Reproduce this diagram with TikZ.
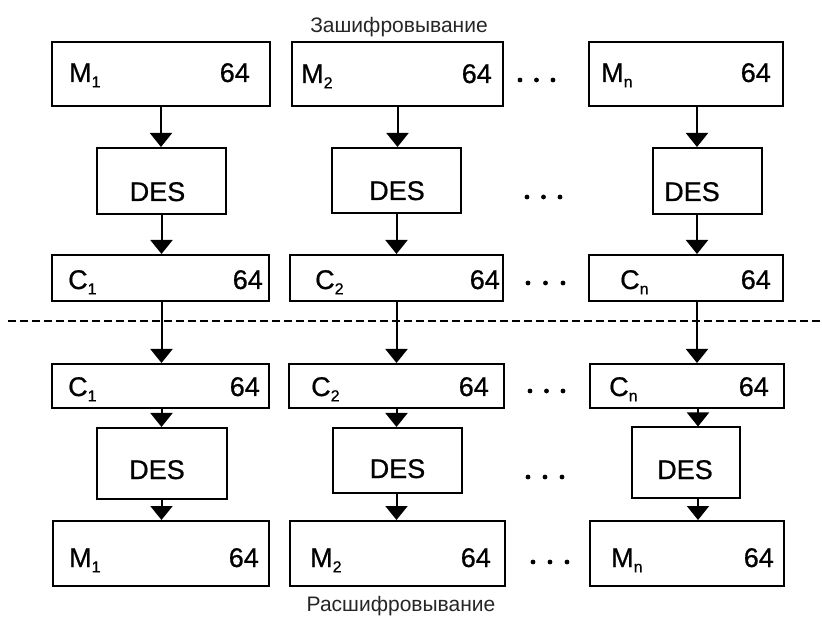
\documentclass[tikz,border=0pt]{standalone}
\usepackage{fontspec}
\setmainfont{Liberation Sans}
\newfontfamily\blkfont{Liberation Sans}[FakeBold=0.7]
\usetikzlibrary{arrows.meta,calc}
\newcommand\lowidx[1]{\raisebox{-0.2em}{\fontsize{16}{16}\selectfont #1}}
\tikzset{
  blk/.style={draw, line width=2pt, inner sep=0pt, rectangle},
  lbl/.style={font=\blkfont\fontsize{27}{30}\selectfont, inner sep=0pt},
  headline/.style={font=\fontsize{21}{24}\selectfont, text=black!85, inner sep=0pt},
  arr/.style={line width=2pt, -{Triangle[width=22pt,length=14pt]}},
  dotmark/.style={fill, circle, minimum size=4.8pt, inner sep=0pt},
  sep/.style={line width=1.5pt, dash pattern=on 8pt off 4pt}
}
\newcommand\dotrow[3]{% x of first dot, spacing, y
  \foreach \k in {0,1,2} \node[dotmark] at ({#1+\k*#2},#3) {};}
\begin{document}
\begin{tikzpicture}[x=1pt,y=-1pt]
\useasboundingbox (0,0) rectangle (822,617);
\fill[white] (0,0) rectangle (822,617);

% captions
\node[headline] (enc) at (399,27) {Зашифровывание};
\node[headline] (dec) at (401,606) {Расшифровывание};

% ---------- encryption ----------
\node[blk, minimum width=218pt, minimum height=64pt] (m1) at (161,74) {};
\node[blk, minimum width=211pt, minimum height=64pt] (m2) at (397.5,74) {};
\node[blk, minimum width=194pt, minimum height=64pt] (mn) at (686,74) {};

\node[blk, minimum width=129pt, minimum height=66pt] (d1) at (161.5,181) {};
\node[blk, minimum width=129pt, minimum height=65pt] (d2) at (396.5,180.5) {};
\node[blk, minimum width=109pt, minimum height=66pt] (dn) at (707.5,181) {};

\node[blk, minimum width=217pt, minimum height=46pt] (c1) at (160.5,278) {};
\node[blk, minimum width=213pt, minimum height=46pt] (c2) at (396.5,278) {};
\node[blk, minimum width=194pt, minimum height=46pt] (cn) at (686,278) {};

% ---------- decryption ----------
\node[blk, minimum width=217pt, minimum height=44pt] (c1b) at (160.5,386) {};
\node[blk, minimum width=215pt, minimum height=44pt] (c2b) at (396.5,386) {};
\node[blk, minimum width=194pt, minimum height=44pt] (cnb) at (687,386) {};

\node[blk, minimum width=130pt, minimum height=71pt] (d1b) at (162,463.5) {};
\node[blk, minimum width=129pt, minimum height=65pt] (d2b) at (397.5,460.5) {};
\node[blk, minimum width=108pt, minimum height=70pt] (dnb) at (686,462.5) {};

\node[blk, minimum width=216pt, minimum height=65pt] (m1b) at (161,553.5) {};
\node[blk, minimum width=215pt, minimum height=65pt] (m2b) at (397.5,553.5) {};
\node[blk, minimum width=194pt, minimum height=65pt] (mnb) at (687,553.5) {};

% block labels
\node[lbl, anchor=base west] at (69,82) {M\lowidx{1}};
\node[lbl, anchor=base east] at (250,82) {64};
\node[lbl, anchor=base west] at (301,83) {M\lowidx{2}};
\node[lbl, anchor=base east] at (492,83) {64};
\node[lbl, anchor=base west] at (601,82) {M\lowidx{n}};
\node[lbl, anchor=base east] at (771,82) {64};

\node[lbl, anchor=base] at (157.5,201) {DES};
\node[lbl, anchor=base] at (397,200) {DES};
\node[lbl, anchor=base] at (692,201) {DES};

\node[lbl, anchor=base west] at (68,289) {C\lowidx{1}};
\node[lbl, anchor=base east] at (263,289) {64};
\node[lbl, anchor=base west] at (315,289) {C\lowidx{2}};
\node[lbl, anchor=base east] at (500,289) {64};
\node[lbl, anchor=base west] at (620,289) {C\lowidx{n}};
\node[lbl, anchor=base east] at (771,289) {64};

\node[lbl, anchor=base west] at (68,396) {C\lowidx{1}};
\node[lbl, anchor=base east] at (260,396) {64};
\node[lbl, anchor=base west] at (311,396) {C\lowidx{2}};
\node[lbl, anchor=base east] at (489,396) {64};
\node[lbl, anchor=base west] at (609,396) {C\lowidx{n}};
\node[lbl, anchor=base east] at (769,396) {64};

\node[lbl, anchor=base] at (157,479) {DES};
\node[lbl, anchor=base] at (397.5,478) {DES};
\node[lbl, anchor=base] at (685,479) {DES};

\node[lbl, anchor=base west] at (69,567) {M\lowidx{1}};
\node[lbl, anchor=base east] at (259,567) {64};
\node[lbl, anchor=base west] at (310,567) {M\lowidx{2}};
\node[lbl, anchor=base east] at (491,567) {64};
\node[lbl, anchor=base west] at (611,567) {M\lowidx{n}};
\node[lbl, anchor=base east] at (774,567) {64};

% ellipses between the second and the last column
\dotrow{520}{16.5}{80}
\dotrow{527}{16.5}{197}
\dotrow{528}{17.5}{283}
\dotrow{530}{16.5}{391}
\dotrow{528}{17}{477}
\dotrow{533}{17}{562}

% boundary between the two halves
\coordinate (sl) at (8,321);
\coordinate (sr) at (822,321);
\draw[sep] (sl) -- (sr);

% x positions of the last column's arrows
\coordinate (xn) at (697,0);
\coordinate (xnb) at (698,0);

% arrows
\draw[arr] (m1.south) -- (d1.north -| m1.south);
\draw[arr] (m2.south) -- (d2.north -| m2.south);
\draw[arr] (mn.south -| xn) -- (dn.north -| xn);

\draw[arr] (d1.south) -- (c1.north -| d1.south);
\draw[arr] (d2.south) -- (c2.north -| d2.south);
\draw[arr] (dn.south -| xn) -- (cn.north -| xn);

\draw[arr] (c1.south -| d1.south) -- (c1b.north -| d1.south);
\draw[arr] (c2.south -| d2.south) -- (c2b.north -| d2.south);
\draw[arr] (cn.south -| xn) -- (cnb.north -| xn);

\draw[arr] (c1b.south -| d1.south) -- (d1b.north -| d1.south);
\draw[arr] (c2b.south -| d2.south) -- (d2b.north -| d2.south);
\draw[arr] (cnb.south -| xnb) -- (dnb.north -| xnb);

\draw[arr] (d1b.south -| d1.south) -- (m1b.north -| d1.south);
\draw[arr] (d2b.south -| d2.south) -- (m2b.north -| d2.south);
\draw[arr] (dnb.south -| xnb) -- (mnb.north -| xnb);
\end{tikzpicture}
\end{document}
